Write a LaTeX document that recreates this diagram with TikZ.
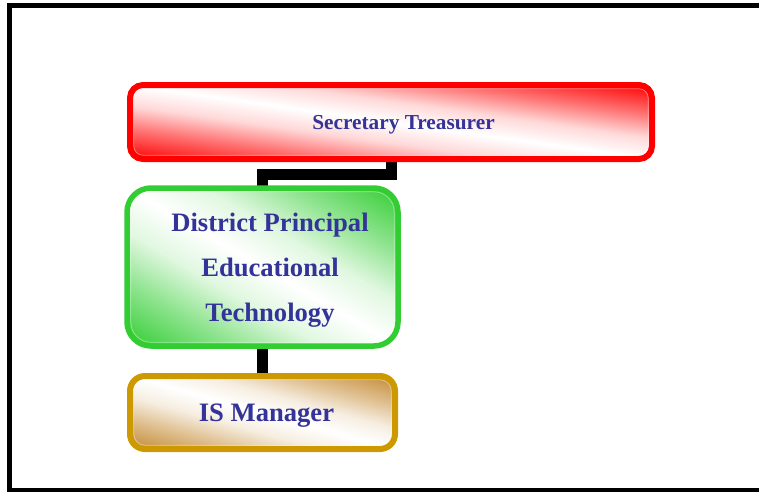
\documentclass[tikz,border=0pt]{standalone}
\usepackage{fontspec}
\setmainfont{Liberation Serif}
\usetikzlibrary{backgrounds}

\definecolor{titleblue}{RGB}{51,51,153}
\definecolor{boxred}{RGB}{255,0,0}
\definecolor{boxgreen}{RGB}{50,205,50}
\definecolor{boxgold}{RGB}{204,153,0}
\definecolor{fillgold}{RGB}{196,138,50}

% colour - white - colour bands; the 25bp..75bp part spans the shaded square
\newcommand\declareband[2]{%
  \pgfdeclareverticalshading{#1}{100bp}{color(0bp)=(#2); color(25bp)=(#2);
    color(35bp)=(#2!55!white); color(43bp)=(#2!15!white); color(50bp)=(white);
    color(57bp)=(#2!15!white); color(65bp)=(#2!55!white);
    color(75bp)=(#2); color(100bp)=(#2)}}
\declareband{redband}{boxred}
\declareband{greenband}{boxgreen}
\declareband{goldband}{fillgold}

% #1 node, #2 width, #3 height, #4 corner radius, #5 inner radius, #6 shading:
% a diagonal band running from the top left corner to the bottom right corner,
% with a faint pale line just inside the border
\newcommand\diagfill[6]{%
  \begin{scope}
    \clip[rounded corners=#4] (#1.south west) rectangle (#1.north east);
    \begin{scope}[transform canvas={shift={(#1.center)}, xscale=#2/2, yscale=#3/2, rotate=-45}]
      \shade[shading=#6] (-1.4142,-1.4142) rectangle (1.4142,1.4142);
    \end{scope}
    \draw[white, opacity=0.4, line width=0.8pt, rounded corners=#5]
      ([shift={(3.8pt,3.8pt)}]#1.south west) rectangle ([shift={(-3.8pt,-3.8pt)}]#1.north east);
  \end{scope}}

\tikzset{
  orgbox/.style={rectangle, draw, line width=6pt, inner sep=0pt, outer sep=0pt},
  boxtext/.style={text=titleblue, font=\fontsize{26.6}{45}\selectfont\bfseries, inner sep=0pt},
  link/.style={line width=11pt, black, line join=miter, line cap=butt},
}

\begin{document}
\begin{tikzpicture}[x=1pt,y=-1pt]
  \useasboundingbox (0,0) rectangle (759,491);

  % outer frame, running past the right edge
  \begin{scope}
    \clip (0,0) rectangle (759,491);
    \draw[line width=5pt] (9.5,5.5) rectangle (800,490.5);
  \end{scope}

  % boxes
  \node[orgbox, draw=boxred, rounded corners=13pt,
        minimum width=522pt, minimum height=74pt,
        label={[boxtext, font=\fontsize{21.3}{25}\selectfont\bfseries, xshift=12.5pt, yshift=-3pt]center:Secretary Treasurer}]
        (sec) at (391,122) {};

  \node[orgbox, draw=boxgreen, line width=5.5pt, rounded corners=24pt,
        minimum width=271pt, minimum height=158pt] (dpet) at (262.5,267) {};
  \node[boxtext, align=center] (dpettext) at (270,270.5)
        {District Principal\\Educational\\Technology};

  \node[orgbox, draw=boxgold, rounded corners=15pt,
        minimum width=265pt, minimum height=73pt,
        label={[boxtext, xshift=4pt, yshift=-3pt]center:IS Manager}]
        (ism) at (262.5,412.5) {};

  \begin{pgfonlayer}{background}
    % connectors
    \draw[link] (sec.south) -- ++(0,15) -| (dpet.north);
    \draw[link] (dpet.south) -- (ism.north);
    % box fills
    \diagfill{sec}{522}{74}{13pt}{9pt}{redband}
    \diagfill{dpet}{271}{158}{24pt}{20pt}{greenband}
    \diagfill{ism}{265}{73}{15pt}{11pt}{goldband}
  \end{pgfonlayer}
\end{tikzpicture}
\end{document}
